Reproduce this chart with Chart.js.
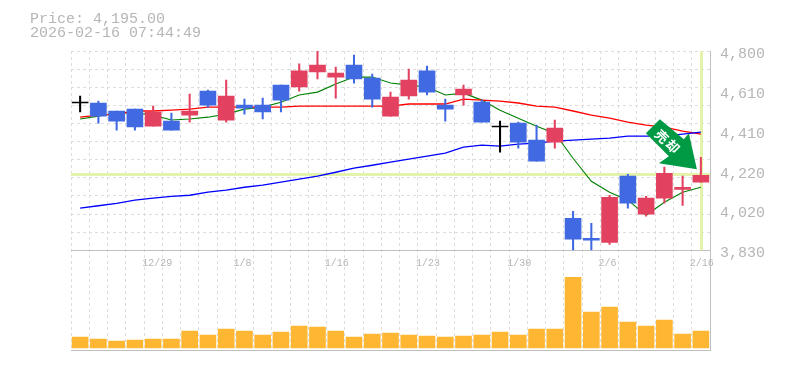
<!DOCTYPE html>
<html>
<head>
<meta charset="utf-8">
<style>
  body { margin: 0; background: #fff; }
</style>
<script src="https://cdn.jsdelivr.net/npm/chart.js@4"></script>
</head>
<body>
<canvas id="chart" width="785" height="370"></canvas>
<script>
const dates = ['12/23','12/24','12/25','12/26','12/29','12/30','1/5','1/6','1/7','1/8','1/9','1/13','1/14','1/15','1/16','1/19','1/20','1/21','1/22','1/23','1/26','1/27','1/28','1/29','1/30','2/2','2/3','2/4','2/5','2/6','2/9','2/10','2/12','2/13','2/16'];
const dateTicks = ['12/29','1/8','1/16','1/23','1/30','2/6','2/16'];

const opens  = [4547,4547,4508,4517,4434,4459,4488,4605,4464,4537,4537,4634,4625,4698,4673,4732,4668,4483,4581,4703,4537,4586,4551,4430,4449,4366,4356,3986,3889,3869,4191,4006,4084,4127,4162];
const highs  = [4581,4556,4508,4517,4532,4498,4590,4610,4659,4566,4571,4634,4737,4800,4722,4780,4688,4600,4712,4727,4566,4634,4561,4459,4454,4439,4464,4020,3962,4098,4200,4093,4235,4191,4283];
const lows   = [4503,4449,4415,4415,4434,4415,4454,4527,4454,4493,4469,4503,4605,4664,4571,4644,4527,4483,4566,4586,4459,4537,4454,4308,4327,4264,4327,3830,3830,3859,4035,3996,4059,4049,4162];
const closes = [4547,4483,4459,4430,4503,4415,4508,4537,4581,4522,4503,4561,4703,4732,4693,4664,4566,4576,4659,4600,4517,4615,4454,4430,4356,4264,4425,3884,3879,4088,4059,4084,4205,4137,4195];

const maShort = [4469,4483,4498,4498,4488,4464,4469,4478,4493,4517,4527,4551,4586,4600,4639,4673,4673,4644,4634,4625,4586,4595,4561,4512,4473,4434,4400,4278,4166,4113,4074,4001,4064,4113,4137];
const maMid   = [4478,4488,4493,4508,4508,4512,4517,4527,4527,4527,4527,4527,4532,4532,4532,4532,4532,4532,4542,4542,4542,4566,4561,4556,4547,4532,4527,4508,4488,4473,4454,4439,4430,4410,4395];
const maLong  = [4035,4047,4059,4074,4084,4093,4098,4113,4123,4137,4147,4162,4176,4191,4210,4230,4244,4259,4274,4288,4303,4332,4342,4337,4347,4352,4361,4366,4371,4376,4386,4386,4386,4395,4405];

const volumes = [110000,90000,70000,80000,90000,90000,170000,130000,190000,170000,130000,160000,220000,210000,170000,110000,140000,150000,130000,120000,110000,120000,130000,160000,130000,190000,190000,710000,360000,410000,260000,220000,280000,140000,170000];

const priceLabels = [4800,4606,4412,4218,4024,3830];
const priceGrid = [4800,4712,4624,4535,4447,4359,4271,4183,4095,4006,3918,3830];
const lastPrice = 4195;
const headerLines = ['Price: 4,195.00', '2026-02-16 07:44:49'];
const signalText = ['売', '却'];

const GRAY = '#c0c0c0';
const TEXT = '#b6b6b6';
const GRID = '#dddddd';
const UP = '#e2425f';
const DOWN = '#4169e1';
const FLAT = '#000000';
const MONO = '"Liberation Mono", monospace';

const candleColors = closes.map((c, i) => c > opens[i] ? UP : (c < opens[i] ? DOWN : FLAT));

// crosshair on the last candle and the current price
const priceCursor = {
    id: 'priceCursor',
    beforeDatasetsDraw(chart) {
        const { ctx, scales } = chart;
        const px = scales.x.getPixelForValue(dates.length - 1);
        const py = scales.y.getPixelForValue(lastPrice);
        ctx.save();
        ctx.fillStyle = '#e4f3ab';
        ctx.fillRect(Math.round(px) - 1, scales.y.top, 3, scales.y.bottom - scales.y.top);
        ctx.fillRect(scales.x.left, Math.round(py) - 2, scales.x.right - scales.x.left, 3);
        ctx.restore();
    }
};

// green signal arrow, placed relative to the last candle
const signalArrow = {
    id: 'signalArrow',
    afterDatasetsDraw(chart) {
        const { ctx, scales } = chart;
        const tipX = scales.x.getPixelForValue(dates.length - 1) - 4;
        const tipY = scales.y.getPixelForValue(lastPrice) - 6;
        const shape = [[-37,-50],[-51,-36],[-28,-13],[-38,-6],[0,0],[-8,-36],[-13,-30]];
        ctx.save();
        ctx.fillStyle = '#009944';
        ctx.beginPath();
        shape.forEach(([dx, dy], i) => {
            if (i === 0) ctx.moveTo(tipX + dx, tipY + dy);
            else ctx.lineTo(tipX + dx, tipY + dy);
        });
        ctx.closePath();
        ctx.fill();
        ctx.fillStyle = '#ffffff';
        ctx.font = 'bold 13px "Noto Sans CJK JP"';
        ctx.textAlign = 'center';
        ctx.textBaseline = 'middle';
        const spots = [[-35,-33],[-24,-23]];
        signalText.forEach((ch, i) => {
            ctx.save();
            ctx.translate(tipX + spots[i][0], tipY + spots[i][1]);
            ctx.rotate(Math.PI / 4);
            ctx.fillText(ch, 0, 0);
            ctx.restore();
        });
        ctx.restore();
    }
};

const header = {
    id: 'header',
    afterDraw(chart) {
        const { ctx } = chart;
        ctx.save();
        ctx.fillStyle = TEXT;
        ctx.font = '15px ' + MONO;
        ctx.textBaseline = 'alphabetic';
        ctx.fillText(headerLines[0], 30, 23);
        ctx.fillText(headerLines[1], 30, 37);
        ctx.restore();
    }
};

const fixWidth = scale => { scale.width = 75; };

new Chart(document.getElementById('chart').getContext('2d'), {
    type: 'bar',
    data: {
        labels: dates,
        datasets: [
            { type: 'line', data: maLong, yAxisID: 'y', borderColor: '#0000ff', borderWidth: 1.3, pointRadius: 0, tension: 0, order: 3 },
            { type: 'line', data: maMid, yAxisID: 'y', borderColor: '#ff0000', borderWidth: 1.3, pointRadius: 0, tension: 0, order: 3 },
            { type: 'line', data: maShort, yAxisID: 'y', borderColor: '#008000', borderWidth: 1.1, pointRadius: 0, tension: 0, order: 3 },
            { data: lows.map((l, i) => [l, highs[i]]), yAxisID: 'y', backgroundColor: candleColors, barThickness: 1.4, grouped: false, order: 2 },
            { data: opens.map((o, i) => [o, closes[i]]), yAxisID: 'y', backgroundColor: candleColors, barThickness: 16, minBarLength: 1, grouped: false, order: 1 },
            { data: volumes, yAxisID: 'yVol', backgroundColor: '#ffb733', barThickness: 16, grouped: false, order: 1 }
        ]
    },
    options: {
        responsive: false,
        animation: false,
        layout: { padding: { left: 71, top: 51, right: 0, bottom: 20 } },
        plugins: { legend: { display: false }, tooltip: { enabled: false } },
        scales: {
            x: {
                position: { y: 3830 },
                offset: true,
                grid: { offset: true, color: GRID, drawTicks: false },
                border: { color: GRAY, dash: [3, 3] },
                ticks: {
                    autoSkip: false,
                    maxRotation: 0,
                    padding: 7,
                    labelOffset: 4,
                    color: TEXT,
                    font: { family: MONO, size: 10 },
                    // labels start at the same spot whatever their length
                    callback(value) {
                        const label = this.getLabelForValue(value);
                        return dateTicks.includes(label) ? label.padEnd(5, ' ') : '';
                    }
                }
            },
            y: {
                position: 'right',
                stack: 'panes',
                stackWeight: 2,
                min: 3830,
                max: 4800,
                afterFit: fixWidth,
                afterBuildTicks(scale) {
                    const all = [...new Set([...priceGrid, ...priceLabels])].sort((a, b) => a - b);
                    scale.ticks = all.map(value => ({ value }));
                },
                grid: {
                    drawTicks: false,
                    color: ctx => priceGrid.includes(ctx.tick.value) ? GRID : 'rgba(0,0,0,0)'
                },
                border: { color: GRAY, dash: [3, 3] },
                ticks: {
                    autoSkip: false,
                    padding: 10,
                    labelOffset: 3,
                    color: TEXT,
                    font: { family: MONO, size: 15 },
                    callback: value => priceLabels.includes(value) ? (Math.round(value / 10) * 10).toLocaleString('en-US') : ''
                }
            },
            yVol: {
                position: 'right',
                stack: 'panes',
                stackWeight: 1,
                min: -20000,
                max: 980000,
                afterFit: fixWidth,
                afterBuildTicks(scale) {
                    scale.ticks = [{ value: -20000 }];
                },
                grid: { drawTicks: false, color: GRAY },
                border: { color: GRAY },
                ticks: { display: false }
            }
        }
    },
    plugins: [priceCursor, signalArrow, header]
});
</script>
</body>
</html>
